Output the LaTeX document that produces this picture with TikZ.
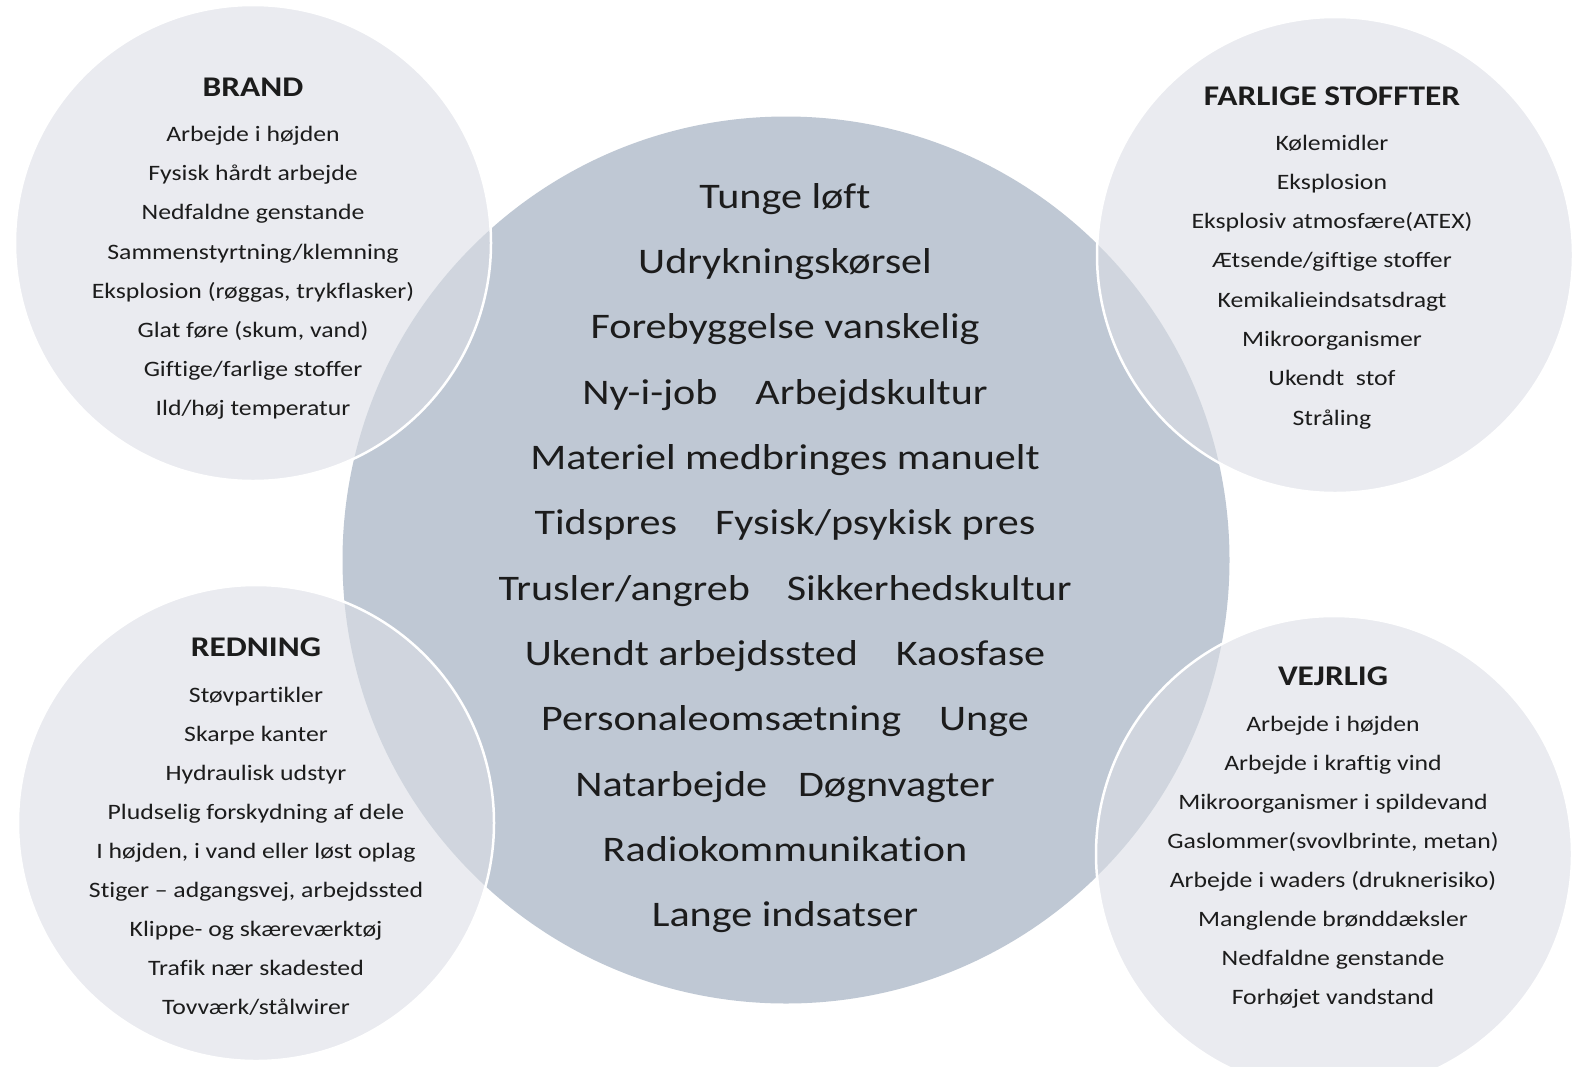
\documentclass[tikz,border=0pt]{standalone}
\usepackage{fontspec}
\setmainfont{Carlito}[FakeStretch=1.17,Ligatures=NoCommon]
\definecolor{bigc}{RGB}{191,200,212}
\definecolor{smallc}{RGB}{220,223,230}
\definecolor{txt}{RGB}{28,28,28}
\begin{document}
\begin{tikzpicture}[x=1pt,y=-1pt,
  bigdisc/.style={circle, fill=bigc, inner sep=0pt, minimum size=887pt},
  smalldisc/.style={circle, fill=smallc, fill opacity=0.6, draw=white, line width=2.5pt, inner sep=0pt, minimum size=476pt},
  item/.style={anchor=base, inner sep=0pt, text=txt, font=\fontsize{22}{22}\selectfont},
  ttl/.style={anchor=base, inner sep=0pt, text=txt, font=\fontsize{28.5}{28.5}\selectfont\bfseries},
  big/.style={anchor=base, inner sep=0pt, text=txt, font=\fontsize{36}{36}\selectfont}]
\useasboundingbox[fill=white] (0,0) rectangle (1576,1066);

% circles
\node[bigdisc] (core) at (786,560) {};
\node[smalldisc] (brandc) at (253,243) {};
\node[smalldisc] (farligc) at (1335,255) {};
\node[smalldisc] (redc) at (256,823) {};
\node[smalldisc] (vejc) at (1334,854) {};

% central text
\foreach \t [count=\i from 0] in {
  Tunge løft,
  Udrykningskørsel,
  Forebyggelse vanskelig,
  Ny-i-job\hspace{38pt}Arbejdskultur,
  Materiel medbringes manuelt,
  Tidspres\hspace{38pt}Fysisk/psykisk pres,
  Trusler/angreb\hspace{37pt}Sikkerhedskultur,
  Ukendt arbejdssted\hspace{38pt}Kaosfase,
  Personaleomsætning\hspace{38pt}Unge,
  Natarbejde\hspace{31pt}Døgnvagter,
  Radiokommunikation,
  Lange indsatser}
  \node[big] (core\i) at (785,{208.3+65.3*\i}) {\t};

% BRAND
\node[ttl] (brandt) at (253,96.7) {BRAND};
\foreach \t [count=\i from 0] in {
  Arbejde i højden,
  Fysisk hårdt arbejde,
  Nedfaldne genstande,
  Sammenstyrtning/klemning,
  {Eksplosion (røggas, trykflasker)},
  {Glat føre (skum, vand)},
  Giftige/farlige stoffer,
  Ild/høj temperatur}
  \node[item] (brand\i) at (253,{141.7+39.1*\i}) {\t};

% FARLIGE STOFFTER
\node[ttl] (farligt) at (1332,105) {FARLIGE STOFFTER};
\foreach \t [count=\i from 0] in {
  Kølemidler,
  Eksplosion,
  Eksplosiv atmosfære(ATEX),
  Ætsende/giftige stoffer,
  Kemikalieindsatsdragt,
  Mikroorganismer,
  Ukendt\ \ stof,
  Stråling}
  \node[item] (farlig\i) at (1332,{150+39.3*\i}) {\t};

% REDNING
\node[ttl] (redt) at (256,656.7) {REDNING};
\foreach \t [count=\i from 0] in {
  Støvpartikler,
  Skarpe kanter,
  Hydraulisk udstyr,
  Pludselig forskydning af dele,
  {I højden, i vand eller løst oplag},
  {Stiger – adgangsvej, arbejdssted},
  Klippe- og skæreværktøj,
  Trafik nær skadested,
  Tovværk/stålwirer}
  \node[item] (red\i) at (256,{702.7+39.0*\i}) {\t};

% VEJRLIG
\node[ttl] (vejt) at (1333,685) {VEJRLIG};
\foreach \t [count=\i from 0] in {
  Arbejde i højden,
  Arbejde i kraftig vind,
  Mikroorganismer i spildevand,
  {Gaslommer(svovlbrinte, metan)},
  Arbejde i waders (druknerisiko),
  Manglende brønddæksler,
  Nedfaldne genstande,
  Forhøjet vandstand}
  \node[item] (vej\i) at (1333,{731.7+39.0*\i}) {\t};
\end{tikzpicture}
\end{document}
